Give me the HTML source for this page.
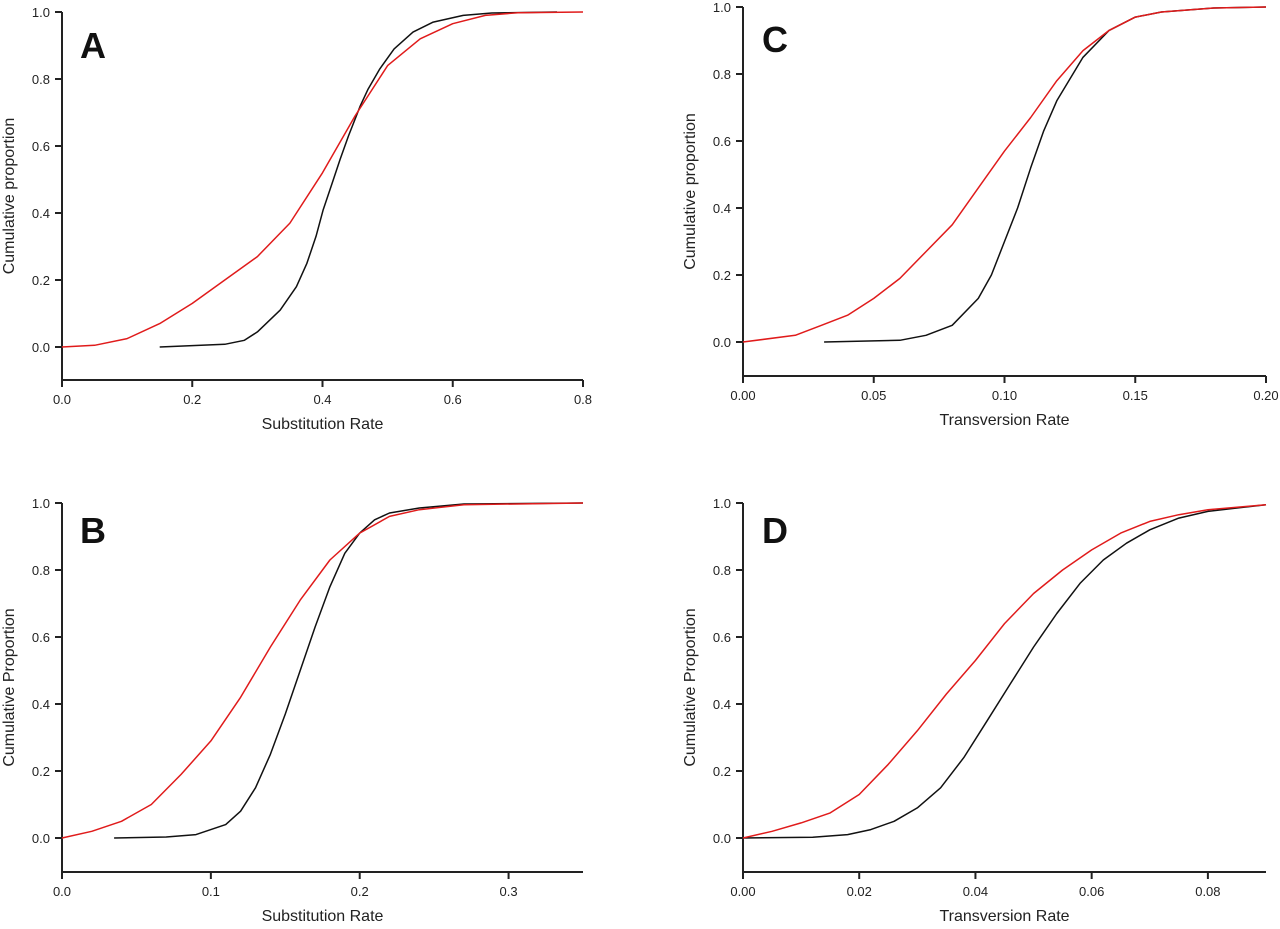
<!DOCTYPE html>
<html><head><meta charset="utf-8"><style>
html,body{margin:0;padding:0;background:#fff;}
svg{display:block;font-family:"Liberation Sans",Arial,sans-serif;}
</style></head><body>
<svg id="chart" width="1280" height="929" viewBox="0 0 1280 929"></svg>
<script>
// Panel A
const aBlackX=[0.15,0.25,0.28,0.30,0.335,0.36,0.376,0.39,0.401,0.415,0.427,0.44,0.458,0.47,0.488,0.51,0.539,0.57,0.616,0.66,0.76];
const aBlackY=[0,0.008,0.02,0.045,0.11,0.18,0.25,0.33,0.41,0.49,0.56,0.63,0.72,0.77,0.83,0.89,0.94,0.97,0.99,0.997,1.0];
const aRedX=[0,0.05,0.1,0.15,0.2,0.25,0.3,0.35,0.4,0.45,0.5,0.55,0.6,0.65,0.7,0.8];
const aRedY=[0,0.005,0.025,0.07,0.13,0.2,0.27,0.37,0.52,0.69,0.84,0.92,0.965,0.99,0.998,1.0];
// Panel B
const bBlackX=[0.035,0.07,0.09,0.11,0.12,0.13,0.14,0.15,0.16,0.17,0.18,0.19,0.2,0.21,0.22,0.24,0.27,0.35];
const bBlackY=[0,0.003,0.01,0.04,0.08,0.15,0.25,0.37,0.5,0.63,0.75,0.85,0.91,0.95,0.97,0.985,0.997,1.0];
const bRedX=[0,0.02,0.04,0.06,0.08,0.1,0.12,0.14,0.16,0.18,0.2,0.22,0.24,0.27,0.35];
const bRedY=[0,0.02,0.05,0.1,0.19,0.29,0.42,0.57,0.71,0.83,0.91,0.96,0.98,0.995,1.0];
// Panel C
const cBlackX=[0.031,0.06,0.07,0.08,0.09,0.095,0.1,0.105,0.11,0.115,0.12,0.13,0.14,0.15,0.16,0.18,0.2];
const cBlackY=[0,0.005,0.02,0.05,0.13,0.2,0.3,0.4,0.52,0.63,0.72,0.85,0.93,0.97,0.985,0.997,1.0];
const cRedX=[0,0.02,0.03,0.04,0.05,0.06,0.07,0.08,0.09,0.1,0.11,0.12,0.13,0.14,0.15,0.16,0.18,0.2];
const cRedY=[0,0.02,0.05,0.08,0.13,0.19,0.27,0.35,0.46,0.57,0.67,0.78,0.87,0.93,0.97,0.985,0.997,1.0];
// Panel D
const dBlackX=[0,0.012,0.018,0.022,0.026,0.03,0.034,0.038,0.042,0.046,0.05,0.054,0.058,0.062,0.066,0.07,0.075,0.08,0.085,0.09];
const dBlackY=[0,0.002,0.01,0.025,0.05,0.09,0.15,0.24,0.35,0.46,0.57,0.67,0.76,0.83,0.88,0.92,0.955,0.975,0.985,0.995];
const dRedX=[0,0.005,0.01,0.015,0.02,0.025,0.03,0.035,0.04,0.045,0.05,0.055,0.06,0.065,0.07,0.075,0.08,0.09];
const dRedY=[0,0.02,0.045,0.075,0.13,0.22,0.32,0.43,0.53,0.64,0.73,0.8,0.86,0.91,0.945,0.965,0.98,0.995];
// Tick labels
const yTicks=[0,0.2,0.4,0.6,0.8,1.0];
const aXTicks=[0,0.2,0.4,0.6,0.8];
const bXTicks=[0,0.1,0.2,0.3];
const cXTicks=[0,0.05,0.1,0.15,0.2];
const dXTicks=[0,0.02,0.04,0.06,0.08];

const NS="http://www.w3.org/2000/svg";
const svg=document.getElementById('chart');
function mk(tag,attrs,parent){const e=document.createElementNS(NS,tag);for(const k in attrs)e.setAttribute(k,attrs[k]);(parent||svg).appendChild(e);return e;}

const panels=[
 {id:'a',letter:'A',x0:62,x1:583,xmax:0.8,yTop:12,yZero:347,yBot:380,xt:aXTicks,dec:1,xl:'Substitution Rate',yl:'Cumulative proportion',bx:aBlackX,by:aBlackY,rx:aRedX,ry:aRedY,lx:80,ly:58},
 {id:'b',letter:'B',x0:62,x1:583,xmax:0.35,yTop:503,yZero:838,yBot:872,xt:bXTicks,dec:1,xl:'Substitution Rate',yl:'Cumulative Proportion',bx:bBlackX,by:bBlackY,rx:bRedX,ry:bRedY,lx:80,ly:543},
 {id:'c',letter:'C',x0:743,x1:1266,xmax:0.2,yTop:7,yZero:342,yBot:376,xt:cXTicks,dec:2,xl:'Transversion Rate',yl:'Cumulative proportion',bx:cBlackX,by:cBlackY,rx:cRedX,ry:cRedY,lx:762,ly:52},
 {id:'d',letter:'D',x0:743,x1:1266,xmax:0.09,yTop:503,yZero:838,yBot:872,xt:dXTicks,dec:2,xl:'Transversion Rate',yl:'Cumulative Proportion',bx:dBlackX,by:dBlackY,rx:dRedX,ry:dRedY,lx:762,ly:543}
];

panels.forEach(p=>{
 const g=mk('g',{});
 
 
 const sx=v=>p.x0+v/p.xmax*(p.x1-p.x0);
 const sy=v=>p.yZero-v*(p.yZero-p.yTop);
 const ya=mk('line',{x1:p.x0,y1:p.yTop,x2:p.x0,y2:p.yBot,stroke:'#222','stroke-width':2},g);
 
 
 const xa=mk('line',{x1:p.x0-1,y1:p.yBot,x2:p.x1,y2:p.yBot,stroke:'#222','stroke-width':2},g);
 
 
 yTicks.forEach(t=>{
  const y=sy(t);
  mk('line',{x1:p.x0-7,y1:y,x2:p.x0,y2:y,stroke:'#222','stroke-width':2},g);
  const tx=mk('text',{x:p.x0-12,y:y+5,'text-anchor':'end','font-size':13,fill:'#222'},g);
  tx.textContent=t.toFixed(1);
  
  
 });
 p.xt.forEach(t=>{
  const x=sx(t);
  mk('line',{x1:x,y1:p.yBot,x2:x,y2:p.yBot+7,stroke:'#222','stroke-width':2},g);
  const tx=mk('text',{x:x,y:p.yBot+24,'text-anchor':'middle','font-size':13,fill:'#222'},g);
  tx.textContent=t.toFixed(p.dec);
  
  
 });
 const xl=mk('text',{x:(p.x0+p.x1)/2,y:p.yBot+49,'text-anchor':'middle','font-size':16,fill:'#222'},g);
 xl.textContent=p.xl;
 
 
 const ycy=(p.yTop+p.yBot)/2, ycx=p.x0-48;
 const yl=mk('text',{x:ycx,y:ycy,'text-anchor':'middle','font-size':16,fill:'#222',transform:`rotate(-90 ${ycx} ${ycy})`},g);
 yl.textContent=p.yl;
 
 
 const lt=mk('text',{x:p.lx,y:p.ly,'font-size':36,'font-weight':'bold',fill:'#111'},g);
 lt.textContent=p.letter;
 
 
 const pts=(xs,ys)=>xs.map((v,i)=>sx(v).toFixed(1)+','+sy(ys[i]).toFixed(1)).join(' ');
 const bl=mk('polyline',{points:pts(p.bx,p.by),fill:'none',stroke:'#111','stroke-width':1.5,'stroke-linejoin':'round'},g);
 
 
 const rl=mk('polyline',{points:pts(p.rx,p.ry),fill:'none',stroke:'#e01b1b','stroke-width':1.5,'stroke-linejoin':'round'},g);
 
 
});
</script>
</body></html>
